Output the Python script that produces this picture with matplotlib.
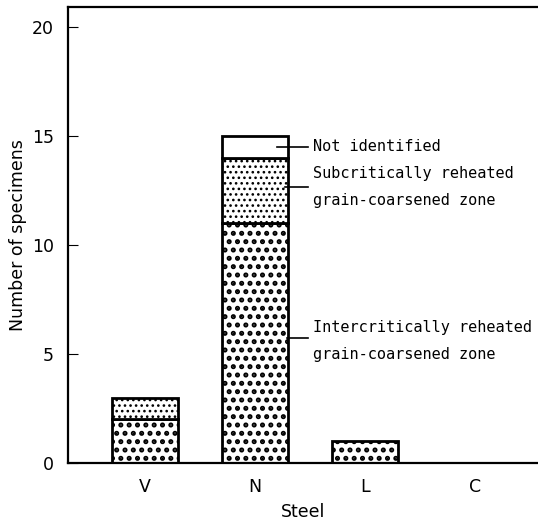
import matplotlib
matplotlib.use("Agg")
import matplotlib.pyplot as plt
import numpy as np

steels = ["V", "N", "L", "C"]
intercritical = [2, 11, 1, 0]
subcritical = [1, 3, 0, 0]
not_identified = [0, 1, 0, 0]

plt.rcParams['font.family'] = ['DejaVu Sans']
plt.rcParams['hatch.color'] = 'black'

fig = plt.figure(figsize=(5.38, 5.22), dpi=100)
ax = fig.add_axes([68/538, 1-463/522, 1-68/538, (463-7)/522])

x = np.arange(len(steels))
w = 0.6
bottom = np.zeros(len(steels))
plt.rcParams['hatch.linewidth'] = 2.4
b1 = ax.bar(x, intercritical, w, bottom=bottom, color='white', edgecolor='black',
            linewidth=2, hatch='..')
bottom += np.array(intercritical)
plt.rcParams['hatch.linewidth'] = 1.1
b2 = ax.bar(x, subcritical, w, bottom=bottom, color='white', edgecolor='black',
            linewidth=2, hatch='...')
bottom += np.array(subcritical)
b3 = ax.bar(x, not_identified, w, bottom=bottom, color='white', edgecolor='black',
            linewidth=2)
for bars in (b1, b2, b3):
    for r in bars:
        if r.get_height() == 0:
            r.set_visible(False)

ax.set_xlim(-0.70, 3.57)
ax.set_ylim(0, 20.92)
ax.set_xticks(x)
ax.set_xticklabels(steels, fontsize=12.5)
ax.set_yticks([0, 5, 10, 15, 20])
ax.tick_params(axis='y', direction='in', length=7, width=0.8, pad=10, labelsize=12.5)
ax.tick_params(axis='x', length=0, pad=11, labelsize=12.5)
ax.spines['right'].set_visible(False)
for s in ('left', 'top', 'bottom'):
    ax.spines[s].set_linewidth(1.6)

ax.set_xlabel("Steel", fontsize=12.5, labelpad=5)
ax.set_ylabel("Number of specimens", fontsize=12.5, labelpad=4)

mono = dict(family='DejaVu Sans Mono', fontsize=11.0, va='center', ha='left')
ni = 1
y_ni = intercritical[ni] + subcritical[ni] + not_identified[ni] / 2
y_sc = intercritical[ni] + subcritical[ni] * 0.55
y_ic = intercritical[ni] * 0.52
ax.plot([ni + 0.2, ni + 0.48], [y_ni, y_ni], color='black', lw=1.2)
ax.plot([ni + 0.27, ni + 0.48], [y_sc, y_sc], color='black', lw=1.2)
ax.plot([ni + 0.29, ni + 0.48], [y_ic, y_ic], color='black', lw=1.2)
tx = ni + 0.53
ax.text(tx, y_ni, "Not identified", **mono)
ax.text(tx, 13.3, "Subcritically reheated", **mono)
ax.text(tx, 12.05, "grain-coarsened zone", **mono)
ax.text(tx, 6.2, "Intercritically reheated", **mono)
ax.text(tx, 5.0, "grain-coarsened zone", **mono)

fig.savefig("out.png", dpi=100)
